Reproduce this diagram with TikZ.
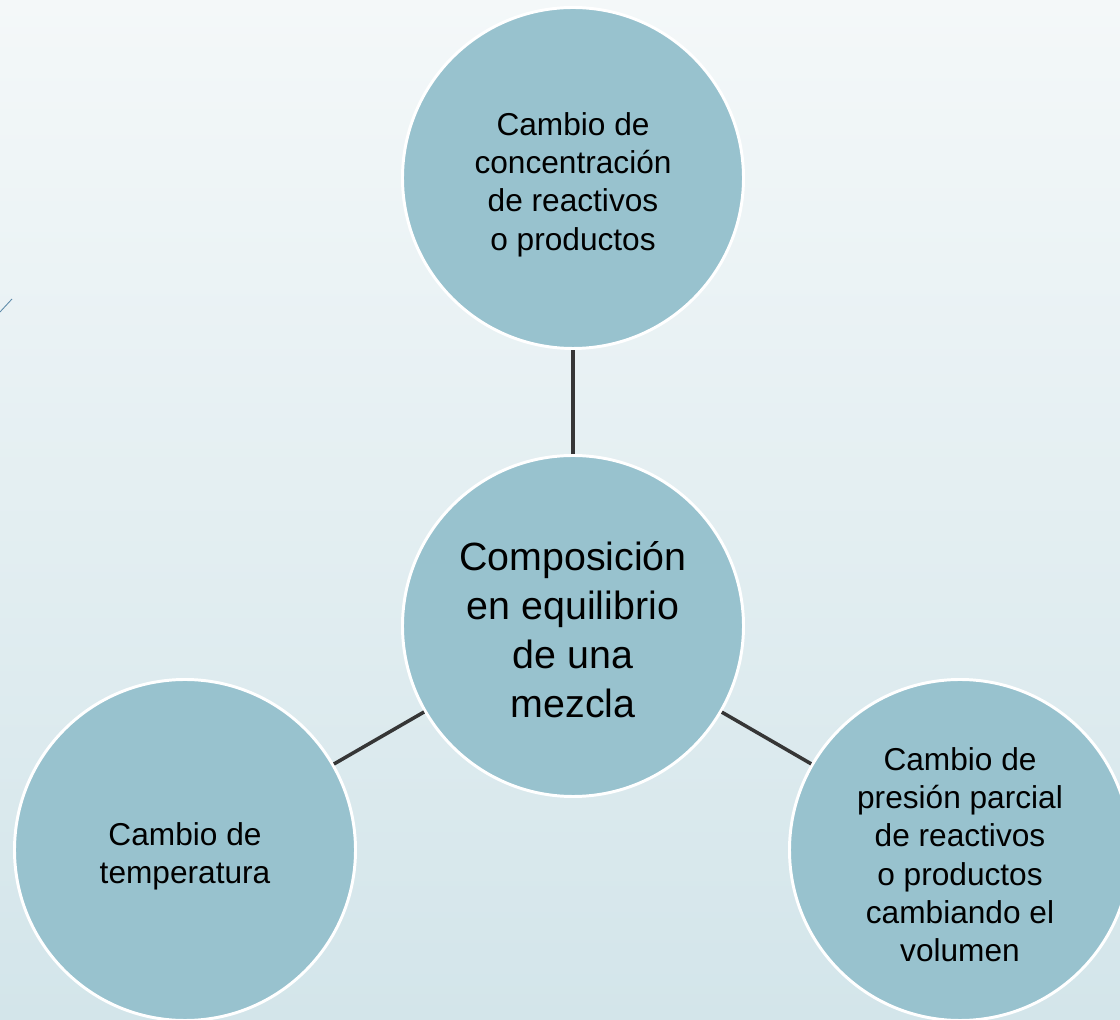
\documentclass[tikz,border=0pt]{standalone}
\usepackage{fontspec}
\setmainfont{Liberation Sans}
\usetikzlibrary{positioning}
\definecolor{eqBgTop}{HTML}{F4F8F9}
\definecolor{eqBgBot}{HTML}{D3E5EA}
\definecolor{eqFill}{HTML}{98C2CE}
\definecolor{eqLink}{HTML}{363636}
\definecolor{eqMark}{HTML}{5B89A8}

\begin{document}
\begin{tikzpicture}[x=0.025cm, y=0.025cm,
  factor/.style={circle, fill=eqFill, draw=white, line width=2.1pt,
    minimum size=341*0.025cm, inner sep=0pt, align=center,
    font=\fontsize{22.5}{27.3}\selectfont},
  core/.style={factor, font=\fontsize{28}{35}\selectfont},
  link/.style={eqLink, line width=2.5pt}]
  \useasboundingbox (0,0) rectangle (1120,1020);
  \clip (0,0) rectangle (1120,1020);
  \shade[top color=eqBgTop, bottom color=eqBgBot] (0,0) rectangle (1120,1020);
  \draw[eqMark, line width=0.6pt] (0,708) -- (12,721);

  \node[core] (mix) at (573,394) {\rule{0pt}{25.7pt}Composición\\en equilibrio\\de una\\mezcla};
  \node[factor] (conc) at (573,842) {\rule{0pt}{25.7pt}Cambio de\\concentración\\de reactivos\\o productos};
  \node[factor] (temp) at (185,170) {\rule{0pt}{25.7pt}Cambio de\\temperatura};
  \node[factor] (pres) at (960,170) {\rule{0pt}{23pt}Cambio de\\presión parcial\\de reactivos\\o productos\\cambiando el\\volumen};

  \draw[link] (mix) -- (conc);
  \draw[link] (mix) -- (temp);
  \draw[link] (mix) -- (pres);
\end{tikzpicture}
\end{document}
